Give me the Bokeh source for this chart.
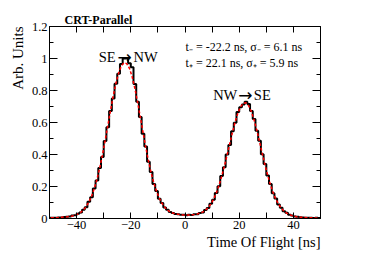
import numpy as np
from bokeh.plotting import figure
from bokeh.models import (FixedTicker, LinearAxis, Label, Range1d, Title,
                          CustomLabelingPolicy)
from bokeh.embed import file_html
from bokeh.resources import INLINE

# ---------------- data ----------------
bin_low, bin_high = -50.0, 50.0

counts = [
    0.004, 0.005, 0.004, 0.006, 0.007, 0.010, 0.011, 0.013, 0.018, 0.021,
    0.030, 0.037, 0.055, 0.070, 0.104, 0.133, 0.188, 0.238, 0.316, 0.385,
    0.484, 0.570, 0.672, 0.750, 0.842, 0.905, 0.965, 1.000, 1.000, 0.970,
    0.945, 0.840, 0.730, 0.635, 0.530, 0.450, 0.355, 0.290, 0.215, 0.172,
    0.123, 0.097, 0.068, 0.055, 0.040, 0.035, 0.028, 0.027, 0.023, 0.024,
    0.021, 0.023, 0.022, 0.026, 0.027, 0.035, 0.038, 0.053, 0.066, 0.092,
    0.117, 0.160, 0.201, 0.266, 0.320, 0.400, 0.460, 0.545, 0.598, 0.665,
    0.695, 0.712, 0.730, 0.715, 0.672, 0.622, 0.548, 0.486, 0.402, 0.340,
    0.268, 0.216, 0.158, 0.125, 0.087, 0.067, 0.045, 0.036, 0.024, 0.019,
    0.013, 0.011, 0.008, 0.007, 0.005, 0.005, 0.004, 0.003, 0.004, 0.003,
]

fit = [
    0.004, 0.004, 0.005, 0.006, 0.008, 0.009, 0.011, 0.014, 0.016, 0.022,
    0.028, 0.039, 0.053, 0.074, 0.102, 0.138, 0.186, 0.244, 0.314, 0.394,
    0.484, 0.579, 0.674, 0.764, 0.845, 0.908, 0.953, 0.974, 0.968, 0.939,
    0.886, 0.813, 0.728, 0.635, 0.540, 0.447, 0.362, 0.286, 0.222, 0.170,
    0.127, 0.095, 0.071, 0.053, 0.041, 0.034, 0.029, 0.026, 0.024, 0.022,
    0.022, 0.022, 0.023, 0.025, 0.028, 0.033, 0.040, 0.051, 0.068, 0.089,
    0.120, 0.157, 0.205, 0.261, 0.325, 0.395, 0.466, 0.538, 0.603, 0.658,
    0.698, 0.720, 0.723, 0.704, 0.668, 0.615, 0.551, 0.481, 0.407, 0.336,
    0.271, 0.213, 0.162, 0.122, 0.090, 0.065, 0.047, 0.034, 0.025, 0.018,
    0.014, 0.010, 0.008, 0.007, 0.006, 0.005, 0.004, 0.004, 0.003, 0.003,
]

x_major = [-40, -20, 0, 20, 40]
x_minor = [-30, -10, 10, 30]
x_tick_labels = {-40: "\u221240", -20: "\u221220", 0: "0", 20: "20", 40: "40"}
y_major = [0, 0.2, 0.4, 0.6, 0.8, 1.0, 1.2]
y_minor = [0.1, 0.3, 0.5, 0.7, 0.9, 1.1]
y_tick_labels = {0: "0", 0.2: "0.2", 0.4: "0.4", 0.6: "0.6", 0.8: "0.8",
                 1.0: "1", 1.2: "1.2"}

title_text = "CRT-Parallel"
x_title = "Time Of Flight [ns]"
y_title = "Arb. Units"
# (left word, arrow, right word) and their x anchors / baseline
peak_words = [("SE", "NW"), ("NW", "SE")]
peak_anchor_x = [(-25.6, -22.3, -19.0), (19.3, 22.3, 25.4)]
peak_anchor_y = [1.008, 0.769]
stats_lines = ["t\u208b = -22.2 ns, \u03c3\u208b = 6.1 ns",
               "t\u208a = 22.1 ns, \u03c3\u208a = 5.9 ns"]

# ---------------- plot ----------------
FONT = "Liberation Serif"

edges = np.linspace(bin_low, bin_high, len(counts) + 1)
centers = 0.5 * (edges[:-1] + edges[1:])

p = figure(width=373, height=254,
           x_range=Range1d(bin_low, bin_high), y_range=Range1d(0, 1.2),
           output_backend="svg", toolbar_location=None,
           min_border_left=49, min_border_right=53,
           min_border_top=26, min_border_bottom=36)
p.grid.visible = False
p.outline_line_color = "black"
p.outline_line_width = 1
p.background_fill_color = "white"
p.border_fill_color = "white"

p.step(x=edges, y=counts + [counts[-1]], mode="after",
       line_color="black", line_width=2)
p.line(centers, fit, line_color="red", line_dash="3 2", line_width=1.5)

no_labels = CustomLabelingPolicy(
    code="const all = [...indices]; for (const i of all) indices.unset(i);")


def style_x(ax, labels_on):
    ax.ticker = FixedTicker(ticks=x_major, minor_ticks=x_minor)
    ax.major_tick_in = 6
    ax.major_tick_out = 0
    ax.minor_tick_in = 6
    ax.minor_tick_out = 0
    ax.axis_line_color = "black"
    ax.major_tick_line_color = "black"
    ax.minor_tick_line_color = "black"
    if labels_on:
        ax.major_label_overrides = x_tick_labels
        ax.major_label_text_font = FONT
        ax.major_label_text_font_size = "12.5px"
        ax.major_label_text_color = "black"
        ax.major_label_standoff = 2
    else:
        ax.major_label_policy = no_labels
        ax.major_label_text_font_size = "0px"
        ax.major_label_standoff = 0


def style_y(ax, labels_on):
    ax.ticker = FixedTicker(ticks=y_major, minor_ticks=y_minor)
    ax.major_tick_in = 8
    ax.major_tick_out = 0
    ax.minor_tick_in = 4
    ax.minor_tick_out = 0
    ax.axis_line_color = "black"
    ax.major_tick_line_color = "black"
    ax.minor_tick_line_color = "black"
    if labels_on:
        ax.major_label_overrides = y_tick_labels
        ax.major_label_text_font = FONT
        ax.major_label_text_font_size = "12.5px"
        ax.major_label_text_color = "black"
        ax.major_label_standoff = 2
    else:
        ax.major_label_policy = no_labels
        ax.major_label_text_font_size = "0px"
        ax.major_label_standoff = 0


style_x(p.xaxis[0], True)
style_y(p.yaxis[0], True)

top_ax = LinearAxis()
style_x(top_ax, False)
p.add_layout(top_ax, "above")
right_ax = LinearAxis()
style_y(right_ax, False)
p.add_layout(right_ax, "right")

# titles (outside the frame)
p.add_layout(Title(text=title_text, align="left", offset=15,
                   text_font=FONT, text_font_size="12px",
                   text_font_style="bold", text_color="black",
                   standoff=0), "above")
p.add_layout(Title(text=x_title, align="right",
                   text_font=FONT, text_font_size="14.5px",
                   text_font_style="normal", text_color="black",
                   standoff=0), "below")
p.add_layout(Title(text=y_title, align="right",
                   text_font=FONT, text_font_size="15px",
                   text_font_style="normal", text_color="black",
                   standoff=5), "left")

# annotations inside the frame
for (w1, w2), (xl, xa_, xr), yb in zip(peak_words, peak_anchor_x,
                                       peak_anchor_y):
    p.add_layout(Label(x=xl, y=yb, text=w1, text_font=FONT,
                       text_font_size="14.5px", text_color="black",
                       text_baseline="alphabetic", text_align="right"))
    p.add_layout(Label(x=xa_, y=yb, text="\u2192", text_font="DejaVu Sans",
                       text_font_size="17px", text_color="black",
                       text_baseline="alphabetic", text_align="center"))
    p.add_layout(Label(x=xr, y=yb, text=w2, text_font=FONT,
                       text_font_size="14.5px", text_color="black",
                       text_baseline="alphabetic", text_align="left"))
for i, txt in enumerate(stats_lines):
    p.add_layout(Label(x=0.2, y=1.069 - i * 0.094, text=txt, text_font=FONT,
                       text_font_size="12px", text_color="black",
                       text_baseline="alphabetic", text_align="left"))

open("out.html", "w").write(file_html(p, INLINE))
